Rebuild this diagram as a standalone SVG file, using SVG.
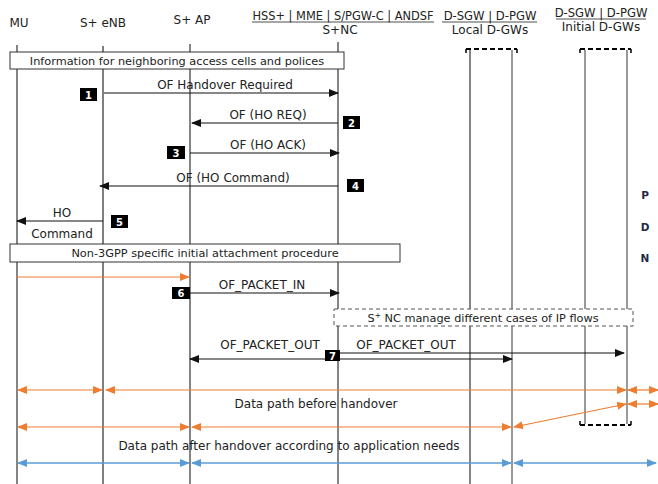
<svg xmlns="http://www.w3.org/2000/svg" width="658" height="484" viewBox="0 0 658 484">
<defs>
<style>
text{font-family:"DejaVu Sans","Liberation Sans",sans-serif;font-size:12px;fill:#222}
.c{text-anchor:middle}
.note{font-size:11.3px}
.life{stroke:#333;stroke-width:1.2;fill:none}
.msg{stroke:#111;stroke-width:1.2;fill:none}
.or{stroke:#ED7D31;stroke-width:1.2;fill:none}
.bl{stroke:#5B9BD5;stroke-width:1.5;fill:none}
.box{fill:#fff;stroke:#333;stroke-width:1}
.dbox{fill:#fff;stroke:#555;stroke-width:1;stroke-dasharray:4 3}
.nb{fill:#000}
.nt{fill:#fff;font-weight:bold;font-size:10px;text-anchor:middle}
.cap{stroke:#000;stroke-width:2;fill:none;stroke-dasharray:5 3}
.capt{stroke:#000;stroke-width:1.5;fill:none}
.pdn{font-weight:bold;fill:#1F2A44;font-size:10.5px;text-anchor:middle}
</style>
<marker id="ab" markerWidth="10" markerHeight="8" refX="9" refY="4" orient="auto" markerUnits="userSpaceOnUse"><path d="M0,0 L10,4 L0,8 z" fill="#111"/></marker>
<marker id="ao" markerWidth="10" markerHeight="8" refX="9" refY="4" orient="auto-start-reverse" markerUnits="userSpaceOnUse"><path d="M0,0 L10,4 L0,8 z" fill="#ED7D31"/></marker>
<marker id="ablu" markerWidth="10" markerHeight="8" refX="9" refY="4" orient="auto-start-reverse" markerUnits="userSpaceOnUse"><path d="M0,0 L10,4 L0,8 z" fill="#5B9BD5"/></marker>
</defs>

<g id="lifelines">
<line class="life" x1="17" y1="45" x2="17" y2="484"/>
<line class="life" x1="103" y1="46" x2="103" y2="484" style="stroke:#555;stroke-width:1.5"/>
<line class="life" x1="190" y1="44" x2="190" y2="484"/>
<line class="life" x1="338" y1="42" x2="338" y2="484"/>
<line class="life" x1="470" y1="50" x2="470" y2="484"/>
<line class="life" x1="512" y1="50" x2="512" y2="484" style="stroke:#555"/>
<line class="life" x1="585" y1="50" x2="585" y2="424" style="stroke:#555"/>
<line class="life" x1="627" y1="50" x2="627" y2="424" style="stroke:#555"/>
</g>

<g id="node-mu"><text class="c" x="19" y="27">MU</text></g>
<g id="node-enb"><text class="c" x="103" y="27">S+ eNB</text></g>
<g id="node-ap"><text class="c" x="192" y="24">S+ AP</text></g>
<g id="node-nc">
<text class="c" x="343" y="20" style="font-size:11.4px">HSS+ | MME | S/PGW-C | ANDSF</text>
<line x1="252" y1="22" x2="434" y2="22" stroke="#222" stroke-width="0.8"/>
<text class="c" x="340" y="34">S+NC</text>
</g>
<g id="node-local">
<text class="c" x="490" y="20" style="font-size:11.6px">D-SGW | D-PGW</text>
<line x1="442" y1="22" x2="537" y2="22" stroke="#222" stroke-width="0.8"/>
<text class="c" x="490" y="34">Local D-GWs</text>
<path class="capt" d="M466,53 V49 M517,53 V49"/>
<line class="cap" x1="466" y1="49" x2="517" y2="49"/>
</g>
<g id="node-initial">
<text class="c" x="601" y="17" style="font-size:11.6px">D-SGW | D-PGW</text>
<line x1="556" y1="19" x2="646" y2="19" stroke="#222" stroke-width="0.8"/>
<text class="c" x="601" y="31">Initial D-GWs</text>
<path class="capt" d="M580,53 V49 M631,53 V49"/>
<line class="cap" x1="580" y1="49" x2="631" y2="49"/>
<path class="capt" d="M580,421 V425 M631,421 V425"/>
<line class="cap" x1="580" y1="425" x2="631" y2="425"/>
</g>
<g id="node-pdn">
<text class="pdn" x="645" y="199">P</text>
<text class="pdn" x="645" y="231">D</text>
<text class="pdn" x="645" y="262">N</text>
</g>

<g id="note-info">
<rect class="box" x="10" y="52" width="334" height="17"/>
<text class="c note" x="177" y="64.5">Information for neighboring access cells and polices</text>
</g>
<g id="note-non3gpp">
<rect class="box" x="10" y="244" width="390" height="18"/>
<text class="c note" x="205" y="257">Non-3GPP specific initial attachment procedure</text>
</g>
<g id="note-manage">
<rect class="dbox" x="334" y="309" width="299" height="17"/>
<text class="c note" x="483" y="321.5">S<tspan font-size="7.5" dy="-4">+</tspan><tspan dy="4"> NC manage different cases of IP flows</tspan></text>
</g>

<g id="connectors">
<line class="msg" x1="104" y1="93" x2="338" y2="93" marker-end="url(#ab)"/>
<text class="c" x="225" y="89">OF Handover Required</text>
<line class="msg" x1="338" y1="123" x2="192" y2="123" marker-end="url(#ab)"/>
<text class="c" x="268" y="119">OF (HO REQ)</text>
<line class="msg" x1="190" y1="153" x2="339" y2="153" marker-end="url(#ab)"/>
<text class="c" x="268" y="149">OF (HO ACK)</text>
<line class="msg" x1="338" y1="186" x2="100" y2="186" marker-end="url(#ab)"/>
<text class="c" x="233" y="182">OF (HO Command)</text>
<line class="msg" x1="103" y1="221" x2="17" y2="221" marker-end="url(#ab)"/>
<text class="c" x="62" y="217">HO</text>
<text class="c" x="62" y="238">Command</text>

<line class="or" x1="17" y1="277" x2="189" y2="277" marker-end="url(#ao)"/>
<line class="msg" x1="190" y1="293" x2="339" y2="293" marker-end="url(#ab)"/>
<text class="c" x="262" y="289">OF_PACKET_IN</text>

<line class="msg" x1="338" y1="359" x2="190" y2="359" marker-end="url(#ab)"/>
<text class="c" x="270" y="349">OF_PACKET_OUT</text>
<line class="msg" x1="340" y1="353" x2="624" y2="353" marker-end="url(#ab)"/>
<line class="msg" x1="340" y1="359" x2="512" y2="359" marker-end="url(#ab)"/>
<text class="c" x="406" y="349">OF_PACKET_OUT</text>

<line class="or" x1="18" y1="390" x2="102" y2="390" marker-start="url(#ao)" marker-end="url(#ao)"/>
<line class="or" x1="106" y1="390" x2="626" y2="390" marker-start="url(#ao)" marker-end="url(#ao)"/>
<line class="or" x1="628" y1="390" x2="658" y2="390" marker-start="url(#ao)" marker-end="url(#ao)"/>
<text class="c" x="316" y="408">Data path before handover</text>
<line class="or" x1="628" y1="404" x2="658" y2="404" marker-start="url(#ao)" marker-end="url(#ao)"/>
<line class="or" x1="514" y1="427" x2="626" y2="404" marker-start="url(#ao)" marker-end="url(#ao)"/>
<line class="or" x1="18" y1="427" x2="189" y2="427" marker-start="url(#ao)" marker-end="url(#ao)"/>
<line class="or" x1="192" y1="427" x2="511" y2="427" marker-start="url(#ao)" marker-end="url(#ao)"/>
<text class="c" x="289" y="450">Data path after handover according to application needs</text>
<line class="bl" x1="18" y1="463" x2="189" y2="463" marker-start="url(#ablu)" marker-end="url(#ablu)"/>
<line class="bl" x1="192" y1="463" x2="511" y2="463" marker-start="url(#ablu)" marker-end="url(#ablu)"/>
<line class="bl" x1="514" y1="463" x2="656" y2="463" marker-start="url(#ablu)" marker-end="url(#ablu)"/>
</g>

<g id="step-badges">
<rect class="nb" x="80" y="88" width="17" height="13"/><text class="nt" x="88.5" y="98.5">1</text>
<rect class="nb" x="343" y="116" width="17" height="13"/><text class="nt" x="351.5" y="126.5">2</text>
<rect class="nb" x="167" y="146" width="18" height="13"/><text class="nt" x="176" y="156.5">3</text>
<rect class="nb" x="347" y="179" width="17" height="13"/><text class="nt" x="355.5" y="189.5">4</text>
<rect class="nb" x="111" y="215" width="17" height="13"/><text class="nt" x="119.5" y="225.5">5</text>
<rect class="nb" x="172" y="287" width="18" height="12"/><text class="nt" x="181" y="297">6</text>
<rect class="nb" x="325" y="350" width="15" height="11"/><text class="nt" x="332.5" y="359.5">7</text>
</g>
</svg>
